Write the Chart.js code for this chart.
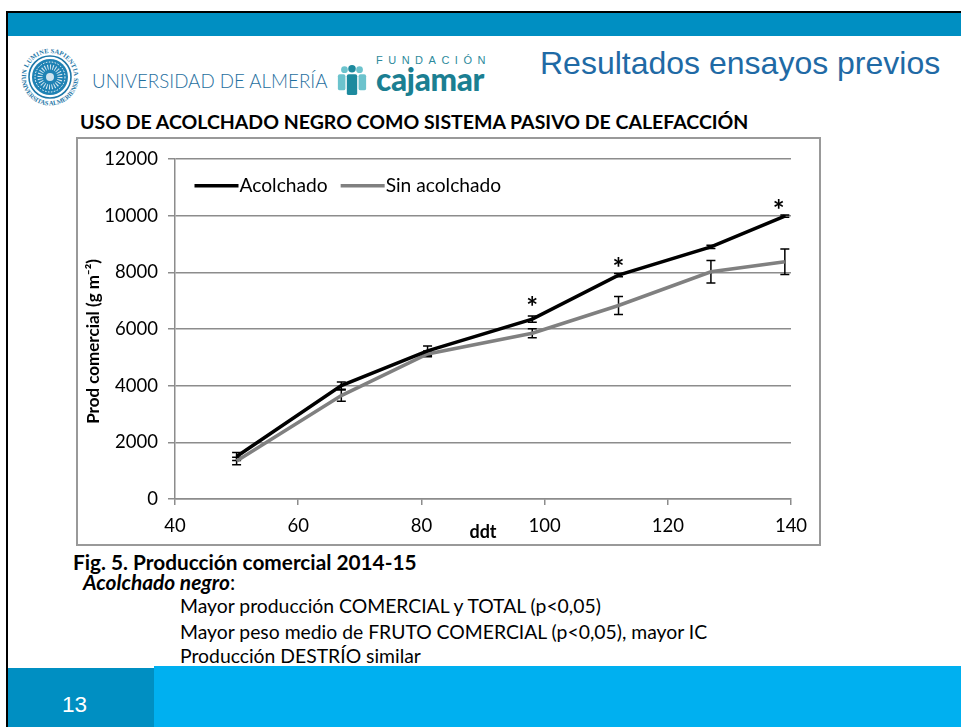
<!DOCTYPE html>
<html lang="es">
<head>
<meta charset="utf-8">
<title>Resultados ensayos previos</title>
<script src="https://cdn.jsdelivr.net/npm/chart.js@4"></script>
<style>
  html, body { margin: 0; padding: 0; background: #fff; }
  body { width: 961px; height: 727px; position: relative; overflow: hidden; font-family: Lato, sans-serif; color: #000; }
  .abs { position: absolute; white-space: nowrap; line-height: 1; }
  #chartBox { position: absolute; left: 76px; top: 137px; width: 745px; height: 409px; box-sizing: border-box; border: 2px solid #999; background: #fff; }
  #chartBox canvas { position: absolute; left: -2px; top: -2px; }
</style>
</head>
<body>
<div class="abs" style="left:6px;top:11px;width:955px;height:2px;background:#000"></div>
<div class="abs" style="left:6px;top:11px;width:2px;height:716px;background:#000"></div>
<div class="abs" style="left:8px;top:13px;width:953px;height:23px;background:#008fc2"></div>
<div class="abs" style="left:8px;top:668px;width:146px;height:59px;background:#008fc2"></div>
<div class="abs" style="left:154px;top:666px;width:807px;height:61px;background:#00b0f0"></div>
<div class="abs" style="left:62px;top:692px;font:22.5px 'Liberation Sans';color:#fff">13</div>

<!-- logos -->
<svg class="abs" style="left:19px;top:45px" width="62" height="64" viewBox="0 0 62 64">
  <defs>
    <path id="ringTop" d="M7 32A24 24 0 1 1 55 32"/>
    <path id="ringBot" d="M2.5 32A28.5 28.5 0 0 0 59.5 32"/>
  </defs>
  <g font-family="Liberation Serif" font-size="6.5" font-weight="700" fill="#1f78a8">
    <text><textPath href="#ringTop" textLength="74">IN LUMINE SAPIENTIA</textPath></text>
    <text><textPath href="#ringBot" textLength="88">UNIVERSITAS ALMERIENSIS</textPath></text>
  </g>
  <circle cx="31" cy="32" r="21" fill="none" stroke="#1f78a8" stroke-width="1.6"/>
  <circle cx="31" cy="32" r="18" fill="#1f82b4"/>
  <circle cx="31" cy="32" r="15" fill="none" stroke="#fff" stroke-width="1" stroke-dasharray="1.5 1.5"/>
  <circle cx="31" cy="32" r="10" fill="none" stroke="#d7e8f2" stroke-width="5" stroke-dasharray="1 1.6"/>
  <circle cx="31" cy="32" r="4" fill="#cfe3ef"/>
</svg>
<div class="abs" style="left:92px;top:69px;font:300 18.75px Lato;color:#1f6f9e">UNIVERSIDAD DE ALMERÍA</div>
<svg class="abs" style="left:335px;top:64px" width="34" height="32" viewBox="0 0 34 34">
  <circle cx="9" cy="6" r="3.6" fill="#6cc3cd"/><circle cx="17" cy="5" r="4" fill="#1d8a9e"/><circle cx="25" cy="6" r="3.6" fill="#6cc3cd"/>
  <rect x="2" y="11" width="8" height="17" rx="2" fill="#6cc3cd"/><rect x="24" y="11" width="8" height="17" rx="2" fill="#6cc3cd"/>
  <rect x="11.5" y="11" width="11" height="22" rx="2" fill="#1d8a9e"/>
</svg>
<div class="abs" style="left:376px;top:54px;font:11px 'Liberation Sans';color:#2c8a9c;letter-spacing:5.5px">FUNDACIÓN</div>
<div class="abs" style="left:376px;top:60px;font:900 31.5px Lato;color:#1b7f92;letter-spacing:-0.3px">cajamar</div>
<div class="abs" style="left:540px;top:45px;font:32px 'Liberation Sans';color:#1f6aa5">Resultados ensayos previos</div>

<div class="abs" style="left:80px;top:110px;font:700 19.5px Lato">USO DE ACOLCHADO NEGRO COMO SISTEMA PASIVO DE CALEFACCIÓN</div>

<div id="chartBox"><canvas id="prodChart" width="745" height="409"></canvas></div>

<div class="abs" style="left:73px;top:549px;font:700 20.8px Lato">Fig. 5. Producción comercial 2014-15</div>
<div class="abs" style="left:83px;top:569px;font:italic 700 20.9px Lato">Acolchado negro<span style="font-weight:400;font-style:normal">:</span></div>
<div class="abs" style="left:180px;top:594px;font:19.35px Lato">Mayor producción COMERCIAL y TOTAL (p&lt;0,05)</div>
<div class="abs" style="left:180px;top:620px;font:19.35px Lato">Mayor peso medio de FRUTO COMERCIAL (p&lt;0,05), mayor IC</div>
<div class="abs" style="left:180px;top:644px;font:19.35px Lato">Producción DESTRÍO similar</div>

<script>
// datos
const ddt = [50, 67, 81, 98, 112, 127, 139];
const acolchado = [1500, 4000, 5230, 6350, 7900, 8900, 9980];
const sinAcolchado = [1340, 3650, 5120, 5850, 6830, 8020, 8370];
const errAcolchado = [140, 130, 170, 110, 60, 60, 40];
const errSin = [130, 200, 100, 160, 320, 400, 450];
const starDdt = [98, 112, 138];
const starValues = [6950, 8320, 10370];

const FONT = 'Lato';
const GRID = '#8c8c8c';

function xy(ys) {
    return ys.map((y, i) => ({ x: ddt[i], y: y }));
}

// barras de error, por debajo de las lineas
const errorBars = {
    id: 'errorBars',
    beforeDatasetsDraw(chart) {
        const { ctx, scales: { x, y } } = chart;
        ctx.save();
        ctx.strokeStyle = '#000';
        ctx.lineWidth = 1.5;
        [[acolchado, errAcolchado], [sinAcolchado, errSin]].forEach(([vals, errs]) => {
            vals.forEach((v, i) => {
                const px = x.getPixelForValue(ddt[i]);
                const top = y.getPixelForValue(v + errs[i]);
                const bot = y.getPixelForValue(v - errs[i]);
                ctx.beginPath();
                ctx.moveTo(px, top); ctx.lineTo(px, bot);
                ctx.moveTo(px - 4.5, top); ctx.lineTo(px + 4.5, top);
                ctx.moveTo(px - 4.5, bot); ctx.lineTo(px + 4.5, bot);
                ctx.stroke();
            });
        });
        ctx.restore();
    }
};

// asteriscos de significacion
const stars = {
    id: 'stars',
    afterDatasetsDraw(chart) {
        const { ctx, scales: { x, y } } = chart;
        ctx.save();
        ctx.fillStyle = '#000';
        ctx.font = '700 28px ' + FONT;
        ctx.textAlign = 'center';
        ctx.textBaseline = 'alphabetic';
        starDdt.forEach((d, i) => {
            ctx.fillText('*', x.getPixelForValue(d), y.getPixelForValue(starValues[i]) + 15);
        });
        ctx.restore();
    }
};

// leyenda en una fila dentro del area, con la linea pegada al texto
const inlineLegend = {
    id: 'inlineLegend',
    afterDatasetsDraw(chart) {
        const { ctx, chartArea } = chart;
        const cy = chartArea.top + 27;
        let cx = chartArea.left + 19.5;
        ctx.save();
        ctx.font = '19.2px ' + FONT;
        ctx.textAlign = 'left';
        ctx.textBaseline = 'middle';
        chart.data.datasets.forEach(ds => {
            ctx.fillStyle = ds.borderColor;
            ctx.fillRect(cx, cy - 2, 44, 3.5);
            ctx.fillStyle = '#000';
            ctx.fillText(ds.label, cx + 45, cy);
            cx += 45 + ctx.measureText(ds.label).width + 13;
        });
        ctx.restore();
    }
};

new Chart(document.getElementById('prodChart').getContext('2d'), {
    type: 'line',
    data: {
        datasets: [
            { label: 'Acolchado', data: xy(acolchado), borderColor: '#000', backgroundColor: '#000', borderWidth: 3.5, pointRadius: 0, tension: 0 },
            { label: 'Sin acolchado', data: xy(sinAcolchado), borderColor: '#808080', backgroundColor: '#808080', borderWidth: 3.5, pointRadius: 0, tension: 0 }
        ]
    },
    options: {
        responsive: false,
        animation: false,
        layout: { padding: { left: 0, top: 22, right: 30, bottom: 0 } },
        plugins: {
            tooltip: { enabled: false },
            legend: { display: false }
        },
        scales: {
            x: {
                type: 'linear',
                min: 40,
                max: 140,
                afterFit(s) { s.height = 47; },
                border: { color: GRID, width: 1.5 },
                grid: { drawOnChartArea: false, color: GRID, tickLength: 6, lineWidth: 1.5 },
                ticks: { stepSize: 20, color: '#000', font: { family: FONT, size: 18.5 }, padding: 10, maxRotation: 0, callback: v => String(v) },
                title: { display: true, text: 'ddt', color: '#000', font: { family: FONT, size: 18, weight: 'bold' }, padding: { top: 0, bottom: 3 } }
            },
            y: {
                min: 0,
                max: 12000,
                afterFit(s) { s.width = 99; },
                border: { color: GRID, width: 1.5 },
                grid: { color: GRID, tickLength: 7, lineWidth: 1.5 },
                ticks: { stepSize: 2000, color: '#000', font: { family: FONT, size: 18.5 }, padding: 10, callback: v => String(v) },
                title: { display: true, text: 'Prod comercial (g m⁻²)\u00a0\u00a0\u00a0\u00a0\u00a0\u00a0', color: '#000', font: { family: FONT, size: 17, weight: 'bold' }, padding: { top: 7, bottom: 0 } }
            }
        }
    },
    plugins: [errorBars, stars, inlineLegend]
});
</script>
</body>
</html>
